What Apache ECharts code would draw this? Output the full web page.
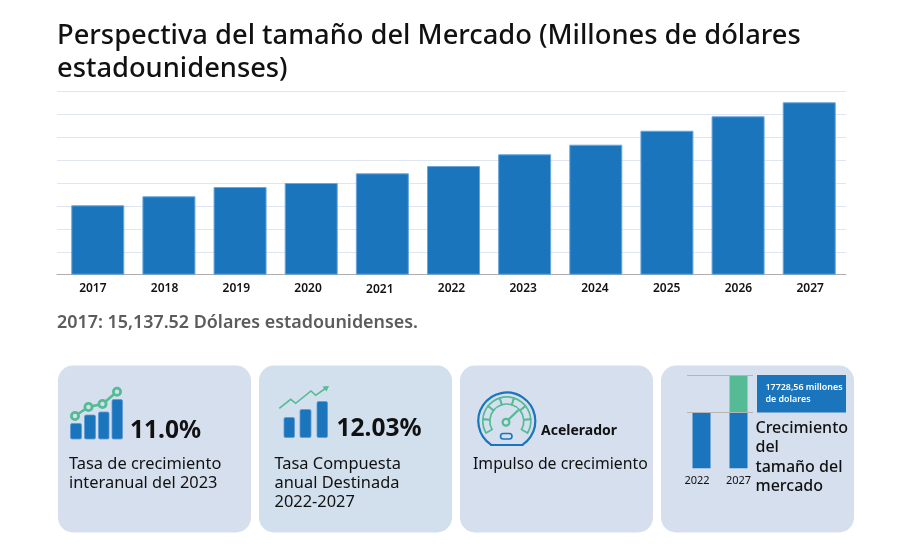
<!DOCTYPE html>
<html lang="es">
<head>
    <meta charset="UTF-8">
    <title>Perspectiva del tamaño del Mercado</title>
    <script src="https://cdn.jsdelivr.net/npm/echarts/dist/echarts.min.js"></script>
    <style>
        html, body { margin: 0; padding: 0; background: #fff; }
        #chart { width: 900px; height: 560px; }
    </style>
</head>
<body>
    <div id="chart"></div>
    <script>
        var years = ['2017', '2018', '2019', '2020', '2021', '2022', '2023', '2024', '2025', '2026', '2027'];
        var marketSize = [15137.52, 17100, 19130, 20000, 22110, 23700, 26260, 28350, 31400, 34550, 37600];
        var sizeYears = ['2022', '2027'];
        var sizeBase = [27100, 27100];
        var sizeGrowth = [null, 17728.56];

        var font = '"Noto Sans", "Open Sans", sans-serif';
        var blue = '#1a75bc';
        var green = '#54bb95';
        var myChart = echarts.init(document.getElementById('chart'));

        // y es la linea base del texto
        function txt(x, y, text, size, weight, color) {
            return {
                type: 'text', x: x, y: y + size * 0.22, z: 5,
                style: { text: text, fontFamily: font, fontSize: size, fontWeight: weight || 400,
                    fill: color || '#111', textVerticalAlign: 'bottom' }
            };
        }
        function card(x, w, fill) {
            return { type: 'rect', z: 0, shape: { x: x, y: 365.5, width: w, height: 167, r: 15 }, style: { fill: fill } };
        }
        function bar(x, top, w, bottom) {
            return { type: 'rect', z: 5, shape: { x: x, y: top, width: w, height: bottom - top, r: 1.5 },
                style: { fill: blue, stroke: '#5f9ad6', lineWidth: 0.8 } };
        }
        function dot(x, y) {
            return { type: 'circle', z: 6, shape: { cx: x, cy: y, r: 3.6 }, style: { fill: '#d6dfee', stroke: green, lineWidth: 2.8 } };
        }

        var elements = [
            txt(57, 44, 'Perspectiva del tamaño del Mercado (Millones de dólares', 27.3, 500),
            txt(57, 77, 'estadounidenses)', 27.3, 500),
            txt(57, 327.5, '2017: 15,137.52 Dólares estadounidenses.', 17.9, 600, '#5c5c5c'),
            card(58, 193, '#d6dfee'),
            card(259, 193, '#d2dfec'),
            card(460, 193, '#d6dfee'),
            card(661, 193, '#d6dfee'),

            // tarjeta 1
            bar(70.5, 423.5, 11, 439), bar(84.5, 415, 11, 439), bar(98.5, 412, 10.5, 439), bar(112, 399.5, 10.5, 439),
            { type: 'polyline', z: 5, shape: { points: [[75, 416], [88.5, 407], [102.5, 404], [117, 391.7]] },
                style: { stroke: green, lineWidth: 2.6, fill: 'none' } },
            dot(75, 416), dot(88.5, 407), dot(102.5, 404), dot(117, 391.7),
            txt(130, 438, '11.0%', 24.5, 700),
            txt(69, 469, 'Tasa de crecimiento', 16.4),
            txt(69, 487.5, 'interanual del 2023', 16.4),

            // tarjeta 2
            bar(284, 417.5, 10.5, 437.5), bar(300, 409.5, 11, 437.5), bar(317, 401.5, 10.5, 437.5),
            { type: 'polyline', z: 5, shape: { points: [[279.3, 408.3], [290.7, 399.3], [295.7, 403.3], [311, 391], [315.7, 395.3], [326, 388]] },
                style: { stroke: green, lineWidth: 1.6, fill: 'none' } },
            { type: 'polygon', z: 5, shape: { points: [[329, 386], [322.5, 386.5], [326.5, 391.5]] }, style: { fill: green } },
            txt(336.5, 436, '12.03%', 24.5, 700),
            txt(274.5, 469, 'Tasa Compuesta', 16.4),
            txt(274.5, 487.5, 'anual Destinada', 16.4),
            txt(274.5, 507, '2022-2027', 16.4),

            // tarjeta 3
            { type: 'arc', z: 5, shape: { cx: 506.8, cy: 421, r: 28.5, startAngle: 2.16, endAngle: 0.98, clockwise: true },
                style: { stroke: blue, lineWidth: 2.2, fill: 'none' } },
            { type: 'line', z: 5, shape: { x1: 490, y1: 445, x2: 523.5, y2: 445 }, style: { stroke: blue, lineWidth: 2 } },
            { type: 'rect', z: 5, shape: { x: 500.5, y: 433.5, width: 11.5, height: 5.5, r: 2.7 },
                style: { fill: 'none', stroke: blue, lineWidth: 1.6 } },
            { type: 'line', z: 6, shape: { x1: 508, y1: 420, x2: 518.5, y2: 410 }, style: { stroke: green, lineWidth: 2.4 } },
            { type: 'circle', z: 6, shape: { cx: 506, cy: 422.3, r: 3.4 }, style: { fill: '#d6dfee', stroke: green, lineWidth: 2.2 } },
            txt(541, 434.5, 'Acelerador', 14, 700),
            txt(473, 469, 'Impulso de crecimiento', 15.8),

            // tarjeta 4
            { type: 'rect', z: 5, shape: { x: 757, y: 375, width: 89, height: 37.5 }, style: { fill: blue } },
            txt(765.5, 390.5, '17728,56 millones', 8.9, 600, '#fff'),
            txt(765.5, 402, 'de dolares', 8.9, 600, '#fff'),
            txt(755.5, 432.5, 'Crecimiento', 16, 500),
            txt(755.5, 452, 'del', 16, 500),
            txt(755.5, 471.5, 'tamaño del', 16, 500),
            txt(755.5, 490.5, 'mercado', 16, 500)
        ];

        // segmentos verdes del acelerador
        var segs = 7;
        for (var i = 0; i < segs; i++) {
            var a0 = (150 + i * 240 / segs) * Math.PI / 180;
            elements.push({ type: 'sector', z: 5,
                shape: { cx: 506.8, cy: 421, r: 24, r0: 17, startAngle: a0, endAngle: a0 + (240 / segs) * Math.PI / 180 },
                style: { fill: 'none', stroke: green, lineWidth: 1.7 } });
        }

        var option = {
            animation: false,
            backgroundColor: '#fff',
            graphic: { elements: elements },
            grid: [
                { left: 57, top: 91.3, width: 789, height: 183.4 },
                { left: 62.2, top: 91.3, width: 782.6, height: 183.4 },
                { left: 683, top: 375.7, width: 74, height: 92.6 },
                { left: 687, top: 375.7, width: 66, height: 92.6 }
            ],
            xAxis: [
                { type: 'category', gridIndex: 0,
                    data: years.map(function (y) { return y === '2021' ? { value: y, textStyle: { padding: [1, 0, 0, 0] } } : y; }),
                    axisLine: { lineStyle: { color: '#aeaeae', width: 1 } }, axisTick: { show: false },
                    axisLabel: { color: '#111', fontFamily: font, fontSize: 12, fontWeight: 600, margin: 8 } },
                { type: 'category', gridIndex: 1, data: years, show: false },
                { type: 'category', gridIndex: 2,
                    data: [{ value: sizeYears[0], textStyle: { padding: [0, 9, 0, 0] } }, sizeYears[1]],
                    axisLine: { show: false }, axisTick: { show: false },
                    axisLabel: { color: '#111', fontFamily: font, fontSize: 11, margin: 7, interval: 0 } },
                { type: 'category', gridIndex: 3, data: sizeYears, show: false }
            ],
            yAxis: [
                { type: 'value', gridIndex: 0, min: 0, max: 40000, interval: 5000,
                    axisLine: { show: false }, axisTick: { show: false }, axisLabel: { show: false },
                    splitLine: { lineStyle: { color: '#dfe6f2', width: 1 } } },
                { type: 'value', gridIndex: 1, min: 0, max: 40000, show: false },
                { type: 'value', gridIndex: 2, min: 0, max: sizeBase[1] + sizeGrowth[1], show: false },
                { type: 'value', gridIndex: 3, min: 0, max: sizeBase[1] + sizeGrowth[1], show: false }
            ],
            series: [
                { type: 'bar', xAxisIndex: 1, yAxisIndex: 1, data: marketSize, barWidth: 53,
                    itemStyle: { color: blue, borderColor: '#6aa6da', borderWidth: 1 } },
                { type: 'bar', xAxisIndex: 2, yAxisIndex: 2, data: sizeBase, stack: 'size', barWidth: 18,
                    itemStyle: { color: blue } },
                { type: 'bar', xAxisIndex: 2, yAxisIndex: 2, data: sizeGrowth, stack: 'size', barWidth: 18,
                    itemStyle: { color: green } },
                { type: 'line', xAxisIndex: 3, yAxisIndex: 3, data: [], silent: true,
                    markLine: { silent: true, symbol: 'none', label: { show: false }, animation: false,
                        lineStyle: { color: '#b5b5b5', type: 'solid', width: 1 },
                        data: [{ yAxis: sizeBase[1] }, { yAxis: sizeBase[1] + sizeGrowth[1] }] } }
            ]
        };
        myChart.setOption(option);
    </script>
</body>
</html>
